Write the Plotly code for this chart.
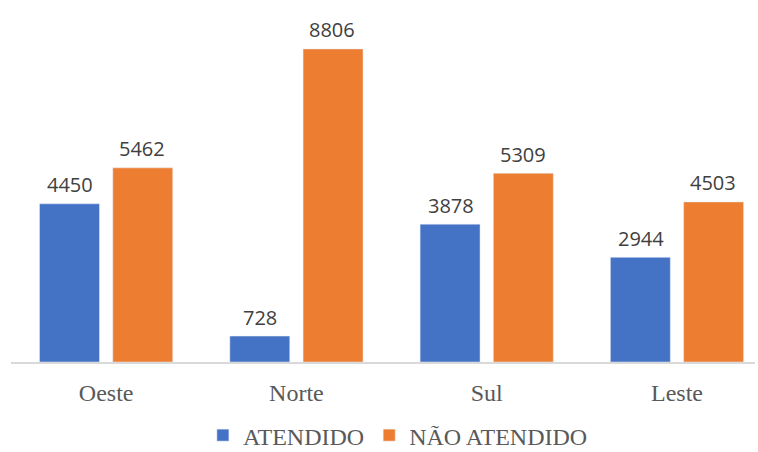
import plotly.graph_objects as go

regions = ["Oeste", "Norte", "Sul", "Leste"]
atendido = [4450, 728, 3878, 2944]
nao_atendido = [5462, 8806, 5309, 4503]

BLUE = "#4472C4"
ORANGE = "#ED7D31"
BAR_W = 0.315
SERIF = "Liberation Serif, Times New Roman, serif"

fig = go.Figure()
fig.add_bar(x=regions, y=atendido, name="ATENDIDO", marker_color=BLUE,
            width=BAR_W, offset=-0.35)
fig.add_bar(x=regions, y=nao_atendido, name="NÃO ATENDIDO", marker_color=ORANGE,
            width=BAR_W, offset=0.035)

# value labels above each bar
for series, shift in ((atendido, -36), (nao_atendido, 36)):
    for cat, val in zip(regions, series):
        fig.add_annotation(x=cat, y=val, text=str(val), showarrow=False,
                           xshift=shift, yshift=19,
                           font=dict(family="Open Sans", size=20, color="#404040"))

fig.update_layout(
    width=758, height=452,
    margin=dict(l=11, r=3, t=10, b=90, autoexpand=False),
    plot_bgcolor="white", paper_bgcolor="white",
    barmode="overlay",
    showlegend=True,
    legend=dict(orientation="h", x=0.52, xanchor="center", y=-0.145, yanchor="top",
                font=dict(family=SERIF, size=24, color="#595959"),
                itemwidth=30, traceorder="normal"),
    xaxis=dict(range=[-0.5, 3.41], showgrid=False, showline=True,
               linecolor="#d9d9d9", linewidth=1.5, ticks="",
               ticklabelstandoff=8,
               tickfont=dict(family=SERIF, size=24, color="#595959")),
    yaxis=dict(range=[0, 9902], visible=False, showgrid=False),
)

fig.write_html("out.html")
